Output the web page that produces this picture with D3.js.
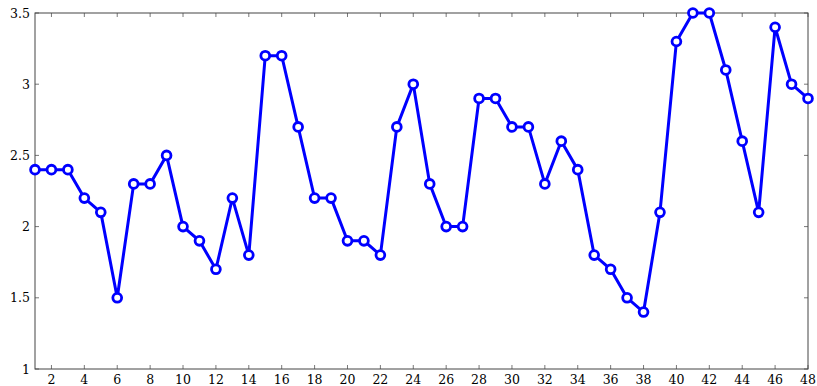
<!DOCTYPE html>
<html><head><meta charset="utf-8">
<script src="https://cdn.jsdelivr.net/npm/d3@7"></script>
<style>body{margin:0;background:#fff}svg{display:block}</style>
</head><body><svg id="c" width="817" height="386"></svg>
<script>
const xs = d3.range(1, 49);
const values = [2.4,2.4,2.4,2.2,2.1,1.5,2.3,2.3,2.5,2.0,1.9,1.7,2.2,1.8,3.2,3.2,2.7,2.2,2.2,1.9,1.9,1.8,2.7,3.0,2.3,2.0,2.0,2.9,2.9,2.7,2.7,2.3,2.6,2.4,1.8,1.7,1.5,1.4,2.1,3.3,3.5,3.5,3.1,2.6,2.1,3.4,3.0,2.9];
const xTicks = d3.range(2, 49, 2);
const yTicks = [1, 1.5, 2, 2.5, 3, 3.5];

const svg = d3.select("#c");
const FONT = "'DejaVu Serif', 'Liberation Serif', serif";
const L = 35, R = 808, T = 13, B = 369;
const x = d3.scaleLinear().domain([1, 48]).range([L, R]);
const y = d3.scaleLinear().domain([1, 3.5]).range([B, T]);
const tl = 4, axc = "#555";

const g = svg.append("g").attr("font-family", FONT).attr("font-size", 12.5);
xTicks.forEach(t => {
  g.append("line").attr("x1", x(t)).attr("x2", x(t)).attr("y1", B).attr("y2", B - tl).attr("stroke", axc).attr("stroke-width", 0.8);
  g.append("line").attr("x1", x(t)).attr("x2", x(t)).attr("y1", T).attr("y2", T + tl).attr("stroke", axc).attr("stroke-width", 0.8);
  g.append("text").attr("x", x(t)).attr("y", B + 15).attr("text-anchor", "middle").text(t);
});
yTicks.forEach(t => {
  g.append("line").attr("x1", L).attr("x2", L + tl).attr("y1", y(t)).attr("y2", y(t)).attr("stroke", axc).attr("stroke-width", 0.8);
  g.append("line").attr("x1", R).attr("x2", R - tl).attr("y1", y(t)).attr("y2", y(t)).attr("stroke", axc).attr("stroke-width", 0.8);
  g.append("text").attr("x", L - 5).attr("y", y(t) + 4.5).attr("text-anchor", "end").text(t);
});
g.append("rect").attr("x", L).attr("y", T).attr("width", R - L).attr("height", B - T).attr("fill", "none").attr("stroke", "#444").attr("stroke-width", 1);

const data = xs.map((d, i) => [d, values[i]]);
svg.append("path").datum(data).attr("fill", "none").attr("stroke", "#0000ff").attr("stroke-width", 3).attr("stroke-linejoin", "miter")
  .attr("d", d3.line().x(d => x(d[0])).y(d => y(d[1])));
svg.selectAll("circle.m").data(data).enter().append("circle").attr("class", "m")
  .attr("cx", d => x(d[0])).attr("cy", d => y(d[1])).attr("r", 4.4)
  .attr("fill", "#fff").attr("stroke", "#0000ff").attr("stroke-width", 2.8);
</script></body></html>
